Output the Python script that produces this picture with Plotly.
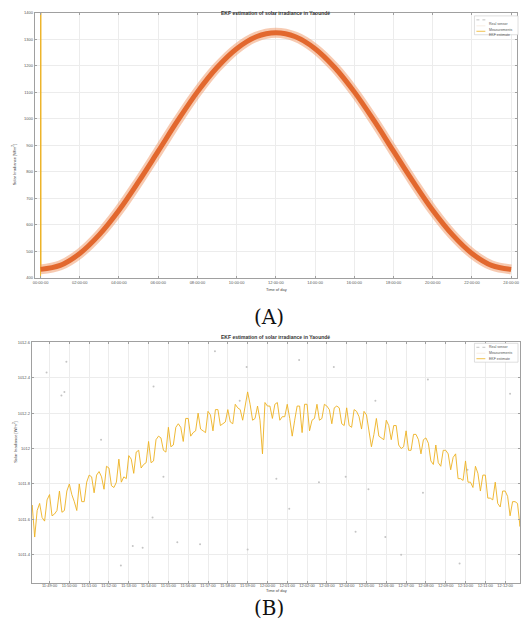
import plotly.graph_objects as go

W, H = 523, 641

# ---------------- data: panel A (full day) ----------------
hours = [0, 1, 2, 3, 4, 5, 6, 7, 8, 9, 10, 11, 12, 13, 14, 15, 16, 17, 18, 19, 20, 21, 22, 23, 24]
irr_measured = [432, 447, 492, 563, 655, 763, 878, 994, 1102, 1194, 1265, 1310, 1325,
                1310, 1265, 1194, 1102, 994, 878, 763, 655, 563, 492, 447, 432]
ekf_hours = [0, 0.01, 0.02] + hours[1:]
ekf_values = [300, 1480, 432] + irr_measured[1:]
a_tickvals = [0, 2, 4, 6, 8, 10, 12, 14, 16, 18, 20, 22, 24]
a_ticktext = ["00:00:00", "02:00:00", "04:00:00", "06:00:00", "08:00:00", "10:00:00", "12:00:00",
              "14:00:00", "16:00:00", "18:00:00", "20:00:00", "22:00:00", "24:00:00"]
a_yticks = [400, 500, 600, 700, 800, 900, 1000, 1100, 1200, 1300, 1400]

# ---------------- data: panel B (zoom around noon, minutes after 11:49:00) ----------------
b_minutes = [-1.0, -0.75, -0.5, -0.25, 0.0, 0.25, 0.5, 0.75, 1.0, 1.25, 1.5, 1.75, 2.0, 2.25, 2.5, 2.75,
             3.0, 3.25, 3.5, 3.75, 4.0, 4.25, 4.5, 4.75, 5.0, 5.25, 5.5, 5.75, 6.0, 6.25, 6.5, 6.75,
             7.0, 7.25, 7.5, 7.75, 8.0, 8.25, 8.5, 8.75, 9.0, 9.25, 9.5, 9.75, 10.0, 10.25, 10.5, 10.75,
             11.0, 11.25, 11.5, 11.75, 12.0, 12.25, 12.5, 12.75, 13.0, 13.25, 13.5, 13.75, 14.0, 14.25,
             14.5, 14.75, 15.0, 15.25, 15.5, 15.75, 16.0, 16.25, 16.5, 16.75, 17.0, 17.25, 17.5, 17.75,
             18.0, 18.25, 18.5, 18.75, 19.0, 19.25, 19.5, 19.75, 20.0, 20.25, 20.5, 20.75, 21.0, 21.25,
             21.5, 21.75, 22.0, 22.25, 22.5, 22.75, 23.0, 23.25, 23.5, 23.75, 24.0]
b_ekf = [1011.64, 1011.50, 1011.69, 1011.59, 1011.74, 1011.63, 1011.76, 1011.65, 1011.80, 1011.70,
         1011.80, 1011.70, 1011.85, 1011.75, 1011.87, 1011.77, 1011.89, 1011.78, 1011.94, 1011.84,
         1011.96, 1011.86, 1011.99, 1011.91, 1012.04, 1011.93, 1012.07, 1011.99, 1012.12, 1012.02,
         1012.14, 1012.04, 1012.17, 1012.09, 1012.20, 1012.10, 1012.21, 1012.10, 1012.22, 1012.14,
         1012.22, 1012.14, 1012.23, 1012.16, 1012.32, 1012.16, 1012.24, 1011.97, 1012.24, 1012.17,
         1012.26, 1012.18, 1012.25, 1012.07, 1012.24, 1012.09, 1012.25, 1012.16, 1012.25, 1012.17,
         1012.24, 1012.14, 1012.24, 1012.14, 1012.23, 1012.12, 1012.21, 1012.11, 1012.19, 1012.01,
         1012.17, 1012.06, 1012.16, 1012.05, 1012.13, 1012.00, 1012.10, 1011.99, 1012.08, 1011.97,
         1012.06, 1011.93, 1012.02, 1011.90, 1011.99, 1011.88, 1011.97, 1011.83, 1011.93, 1011.81,
         1011.90, 1011.76, 1011.85, 1011.72, 1011.81, 1011.67, 1011.76, 1011.62, 1011.70, 1011.56,
         1011.64]
b_minutes_mid = [-0.875, -0.625, -0.375, -0.125, 0.125, 0.375, 0.625, 0.875, 1.125, 1.375, 1.625, 1.875,
                 2.125, 2.375, 2.625, 2.875, 3.125, 3.375, 3.625, 3.875, 4.125, 4.375, 4.625, 4.875,
                 5.125, 5.375, 5.625, 5.875, 6.125, 6.375, 6.625, 6.875, 7.125, 7.375, 7.625, 7.875,
                 8.125, 8.375, 8.625, 8.875, 9.125, 9.375, 9.625, 9.875, 10.125, 10.375, 10.625, 10.875,
                 11.125, 11.375, 11.625, 11.875, 12.125, 12.375, 12.625, 12.875, 13.125, 13.375, 13.625,
                 13.875, 14.125, 14.375, 14.625, 14.875, 15.125, 15.375, 15.625, 15.875, 16.125, 16.375,
                 16.625, 16.875, 17.125, 17.375, 17.625, 17.875, 18.125, 18.375, 18.625, 18.875, 19.125,
                 19.375, 19.625, 19.875, 20.125, 20.375, 20.625, 20.875, 21.125, 21.375, 21.625, 21.875,
                 22.125, 22.375, 22.625, 22.875, 23.125, 23.375, 23.625, 23.875]
b_ekf_mid = [1011.68, 1011.65, 1011.61, 1011.71, 1011.62, 1011.65, 1011.64, 1011.76, 1011.74, 1011.65,
             1011.70, 1011.81, 1011.84, 1011.85, 1011.84, 1011.90, 1011.79, 1011.81, 1011.81, 1011.83,
             1011.94, 1011.98, 1011.89, 1011.92, 1011.92, 1012.05, 1012.06, 1011.98, 1012.01, 1012.12,
             1012.12, 1012.17, 1012.07, 1012.10, 1012.11, 1012.09, 1012.19, 1012.22, 1012.13, 1012.15,
             1012.15, 1012.25, 1012.22, 1012.25, 1012.25, 1012.17, 1012.16, 1012.26, 1012.24, 1012.25,
             1012.16, 1012.18, 1012.17, 1012.16, 1012.24, 1012.25, 1012.10, 1012.17, 1012.16, 1012.25,
             1012.22, 1012.23, 1012.23, 1012.13, 1012.13, 1012.22, 1012.18, 1012.21, 1012.10, 1012.08,
             1012.07, 1012.05, 1012.13, 1012.13, 1012.02, 1012.01, 1011.99, 1012.08, 1012.05, 1012.05,
             1012.03, 1011.91, 1011.92, 1011.99, 1011.97, 1011.95, 1011.83, 1011.82, 1011.81, 1011.78,
             1011.86, 1011.85, 1011.72, 1011.71, 1011.69, 1011.76, 1011.73, 1011.70, 1011.69, 1011.66]
b_meas_minutes = [-0.15, 0.6, 0.75, 0.85, 5.25, 8.35, 9.95, 14.35, 16.45, 23.25, 5.2, 5.75, 4.2, 4.7,
                  6.45, 7.6, 10.0, 11.45, 12.1, 13.6, 14.95, 15.45, 16.1, 16.95, 17.75, 18.85, 20.7,
                  3.6, 9.6, 19.1, 12.6, 21.85, 2.6, 21.1]
b_meas_values = [1012.43, 1012.30, 1012.32, 1012.49, 1012.35, 1012.55, 1012.46, 1012.46, 1012.27,
                 1012.31, 1011.61, 1011.84, 1011.45, 1011.44, 1011.47, 1011.46, 1011.43, 1011.83,
                 1011.66, 1011.81, 1011.84, 1011.53, 1011.77, 1011.50, 1011.40, 1011.75, 1011.35,
                 1011.34, 1012.27, 1012.39, 1012.50, 1012.53, 1012.05, 1011.88]
b_tickvals = list(range(0, 25))
b_ticktext = ["11:49:00", "11:50:00", "11:51:00", "11:52:00", "11:53:00", "11:54:00", "11:55:00",
              "11:56:00", "11:57:00", "11:58:00", "11:59:00", "12:00:00", "12:01:00", "12:02:00",
              "12:03:00", "12:04:00", "12:05:00", "12:06:00", "12:07:00", "12:08:00", "12:09:00",
              "12:10:00", "12:11:00", "12:12:00", "12:13:00"]
b_yticks = [1011.4, 1011.6, 1011.8, 1012.0, 1012.2, 1012.4, 1012.6]
b_yticktext = ["1011.4", "1011.6", "1011.8", "1012", "1012.2", "1012.4", "1012.6"]

TITLE = "EKF estimation of solar irradiance in Yaoundé"
legend_names = ["Real sensor", "Measurements", "EKF estimate"]

YELLOW = "#EDB120"
FONT = "Liberation Sans"


def px(x):
    return x / W


def py(y):
    return 1 - y / H


# merge the two sample sets of the zoomed estimate in time order
b_pairs = sorted(zip(b_minutes + b_minutes_mid, b_ekf + b_ekf_mid))
b_t_all = [p[0] for p in b_pairs]
b_v_all = [p[1] for p in b_pairs]

fig = go.Figure()

# Panel A traces
fig.add_trace(go.Scatter(x=ekf_hours, y=ekf_values, mode="lines", line=dict(color=YELLOW, width=1),
                         xaxis="x", yaxis="y", showlegend=False))
fig.add_trace(go.Scatter(x=hours, y=irr_measured, mode="lines",
                         line=dict(color="rgba(240,150,100,0.5)", width=10, shape="spline"),
                         xaxis="x", yaxis="y", showlegend=False))
fig.add_trace(go.Scatter(x=hours, y=irr_measured, mode="lines", line=dict(color="#E2682E", width=5, shape="spline"),
                         xaxis="x", yaxis="y", showlegend=False))

# Panel B traces
fig.add_trace(go.Scatter(x=b_meas_minutes, y=b_meas_values, mode="markers",
                         marker=dict(color="#c4c4c4", size=2), xaxis="x2", yaxis="y2", showlegend=False))
fig.add_trace(go.Scatter(x=b_t_all, y=b_v_all, mode="lines", line=dict(color=YELLOW, width=0.9),
                         xaxis="x2", yaxis="y2", showlegend=False))

axis_common = dict(showline=True, linecolor="#a0a0a0", linewidth=1, mirror="ticks", ticks="inside",
                   ticklen=2, tickcolor="#a0a0a0", showgrid=True, gridcolor="#ececec", gridwidth=1,
                   zeroline=False, tickfont=dict(size=4, color="#555", family=FONT))

fig.update_layout(
    width=W, height=H, margin=dict(l=0, r=0, t=0, b=0),
    paper_bgcolor="white", plot_bgcolor="white", showlegend=False,
    xaxis=dict(domain=[px(33), px(520)], range=[-0.3, 24.3], tickvals=a_tickvals, ticktext=a_ticktext,
               anchor="y", **axis_common),
    yaxis=dict(domain=[py(277), py(10)], range=[400, 1400], tickvals=a_yticks, anchor="x", **axis_common),
    xaxis2=dict(domain=[px(30), 1.0], range=[-0.9, 23.75], tickvals=b_tickvals, ticktext=b_ticktext,
                anchor="y2", ticklabelstandoff=-2, **axis_common),
    yaxis2=dict(domain=[py(585), py(342)], range=[1011.238, 1012.6], tickvals=b_yticks,
                ticktext=b_yticktext, anchor="x2", **axis_common),
)

ann = []
shapes = []
for ty in (5, 337):
    ann.append(dict(x=px(276), y=py(ty), xref="paper", yref="paper", text="<b>" + TITLE + "</b>",
                    showarrow=False, font=dict(size=5, color="#333", family=FONT)))
ann.append(dict(x=px(277), y=py(289), xref="paper", yref="paper", text="Time of day", showarrow=False,
                font=dict(size=4, color="#444", family=FONT)))
ann.append(dict(x=px(277), y=py(597), xref="paper", yref="paper", text="Time of day", showarrow=False,
                font=dict(size=4, color="#444", family=FONT)))
for cy in (140, 465):
    ann.append(dict(x=px(8), y=py(cy), xref="paper", yref="paper", text="Solar Irradiance [W/m<sup>2</sup>]",
                    textangle=-90, showarrow=False, font=dict(size=4, color="#444", family=FONT)))
ann.append(dict(x=px(270), y=py(316), xref="paper", yref="paper", text="(A)", showarrow=False,
                font=dict(size=20, color="#111", family="DejaVu Serif")))
ann.append(dict(x=px(270), y=py(624), xref="paper", yref="paper", text="(B)", showarrow=False,
                font=dict(size=20, color="#111", family="DejaVu Serif")))

# legends
for top in (13, 343):
    shapes.append(dict(type="rect", xref="paper", yref="paper", x0=px(477), x1=px(521),
                       y0=py(top + 19), y1=py(top), line=dict(color="#c8c8c8", width=0.6), fillcolor="white"))
    rows = [top + 4, top + 10, top + 15.5]
    styles = [dict(color="#9a9a9a", width=0.6, dash="dot"), dict(color="#f3e3d0", width=0.6),
              dict(color=YELLOW, width=0.8)]
    for r, st, name in zip(rows, styles, legend_names):
        shapes.append(dict(type="line", xref="paper", yref="paper", x0=px(479), x1=px(488),
                           y0=py(r), y1=py(r), line=st))
        ann.append(dict(x=px(490), y=py(r), xref="paper", yref="paper", text=name, showarrow=False,
                        xanchor="left", font=dict(size=3.5, color="#555", family=FONT)))

fig.update_layout(annotations=ann, shapes=shapes)
fig.write_html("out.html", config={"displayModeBar": False},
               post_script="document.body.style.margin='0';document.body.style.padding='0';")
